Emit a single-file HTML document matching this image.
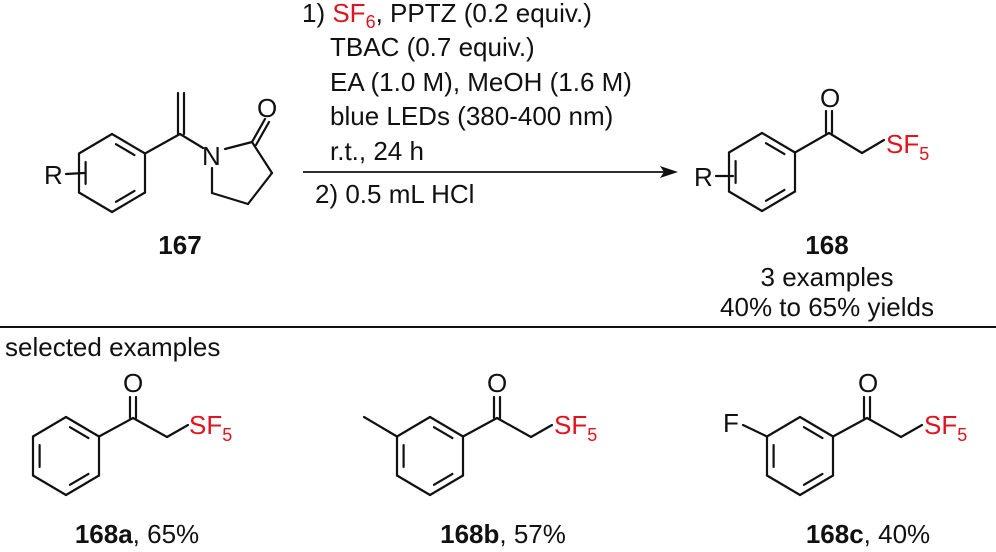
<!DOCTYPE html>
<html><head><meta charset="utf-8"><style>
html,body{margin:0;padding:0;background:#fff}
svg{display:block}
text{font-family:"Liberation Sans",Arial,sans-serif;fill:#111}
.r{fill:#e0141e}
</style></head><body>
<svg id="s" width="996" height="552" viewBox="0 0 996 552" xmlns="http://www.w3.org/2000/svg">
<g id="bonds" stroke="#111" stroke-width="2.2" fill="none" stroke-linecap="round"></g>
<g font-size="26">
<text x="302" y="22">1) <tspan class="r">SF</tspan><tspan class="r" font-size="18" dy="6">6</tspan><tspan dy="-6">, PPTZ (0.2 equiv.)</tspan></text>
<text x="330" y="56">TBAC (0.7 equiv.)</text>
<text x="330" y="91">EA (1.0 M), MeOH (1.6 M)</text>
<text x="330" y="125">blue LEDs (380-400 nm)</text>
<text x="330" y="160">r.t., 24 h</text>
<text x="315" y="203">2) 0.5 mL HCl</text>
</g>
<line x1="303" y1="172" x2="668" y2="172" stroke="#111" stroke-width="1.8"/>
<polygon points="678,172 660,166 664,172 660,178" fill="#111"/>
<g font-size="26">
<text x="44" y="184">R</text>
<text x="202" y="165">N</text>
<text x="257" y="117">O</text>
<text x="820" y="107">O</text>
<text x="694" y="186">R</text>
<text x="886" y="153" class="r">SF<tspan font-size="18" dy="7">5</tspan></text>
<text x="123" y="392">O</text>
<text x="189" y="434" class="r">SF<tspan font-size="18" dy="7">5</tspan></text>
<text x="487" y="392">O</text>
<text x="554" y="434" class="r">SF<tspan font-size="18" dy="7">5</tspan></text>
<text x="858" y="392">O</text>
<text x="924" y="434" class="r">SF<tspan font-size="18" dy="7">5</tspan></text>
<text x="723" y="432">F</text>
</g>
<g font-size="26" text-anchor="middle">
<text x="180" y="254" font-weight="bold">167</text>
<text x="827" y="254" font-weight="bold">168</text>
<text x="827" y="286">3 examples</text>
<text x="827" y="316">40% to 65% yields</text>
<text x="137" y="543"><tspan font-weight="bold">168a</tspan>, 65%</text>
<text x="503" y="543"><tspan font-weight="bold">168b</tspan>, 57%</text>
<text x="868" y="543"><tspan font-weight="bold">168c</tspan>, 40%</text>
</g>
<text x="5" y="356" font-size="26">selected examples</text>
<line x1="0" y1="327" x2="996" y2="327" stroke="#111" stroke-width="2"/>
</svg>
<script>
var g=document.getElementById('bonds'),d='';
function L(a,b,c,e){d+='<line x1="'+a+'" y1="'+b+'" x2="'+c+'" y2="'+e+'"/>';}
function ring(cx,cy){
 var h=33,v=19.5,t=39;
 var p=[[cx,cy-t],[cx+h,cy-v],[cx+h,cy+v],[cx,cy+t],[cx-h,cy+v],[cx-h,cy-v]];
 for(var i=0;i<6;i++){var q=p[(i+1)%6];L(p[i][0],p[i][1],q[0],q[1]);}
 [[0,1],[2,3],[4,5]].forEach(function(e){
  var a=p[e[0]],b=p[e[1]],k=0.8,s=0.15;
  var ax=cx+(a[0]-cx)*k,ay=cy+(a[1]-cy)*k,bx=cx+(b[0]-cx)*k,by=cy+(b[1]-cy)*k;
  L(ax+(bx-ax)*s,ay+(by-ay)*s,bx-(bx-ax)*s,by-(by-ay)*s);});
 return p;}
var p=ring(112,173);
L(66,174,84,173);
L(p[1][0],p[1][1],180,134);
L(178,134,178,93);L(184,134,184,93);
L(180,134,203,148);
L(225,149,252,142);
L(252,142,265,119);L(256,145,269,122);
L(252,142,272,173);L(272,173,248,204);L(248,204,212,193);L(212,193,212,168);
p=ring(762,172);
L(716,176,733,176);
L(p[1][0],p[1][1],829,133);
L(826,133,826,111);L(832,133,832,111);
L(829,133,862,153);L(862,153,884,140);
function ex(cx,cy){var p=ring(cx,cy);var c=cx+67,y=cy-38;
 L(p[1][0],p[1][1],c,y);L(c-3,y,c-3,y-21);L(c+3,y,c+3,y-21);
 L(c,y,c+34,y+19);L(c+34,y+19,c+55,y+7);return p;}
ex(66,456);
p=ex(430,456);L(p[5][0],p[5][1],364,417);
p=ex(800,456);L(p[5][0],p[5][1],743,425);
g.innerHTML=d;
</script>
</body></html>
